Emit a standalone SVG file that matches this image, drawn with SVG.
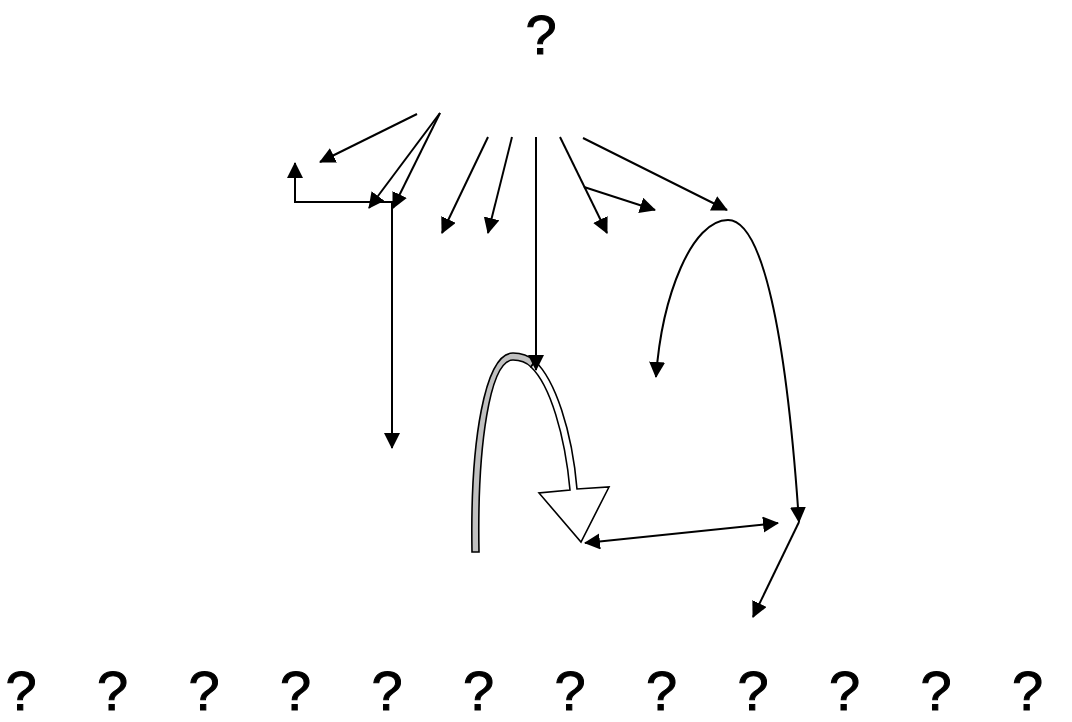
<svg xmlns="http://www.w3.org/2000/svg" width="1072" height="722" viewBox="0 0 1072 722">
<style>
.q{font-family:"Liberation Sans",Arial,sans-serif;font-size:56px;fill:#000;text-anchor:middle;stroke:#000;stroke-width:1}
.c{fill:none;stroke:#000;stroke-width:2;marker-end:url(#ah)}
.d{marker-start:url(#ah)}
</style>
<defs>
<marker id="ah" markerUnits="userSpaceOnUse" markerWidth="17" markerHeight="17" refX="15" refY="8" orient="auto-start-reverse" viewBox="0 0 17 17">
<path d="M0,0 L16,8 L0,16 z" fill="#000"/>
</marker>
</defs>
<rect width="1072" height="722" fill="#fff"/>
<g id="top"><text class="q" x="541" y="54">?</text></g>
<g id="bottom">
<text class="q" x="21" y="710">?</text>
<text class="q" x="112.5" y="710">?</text>
<text class="q" x="204" y="710">?</text>
<text class="q" x="295.5" y="710">?</text>
<text class="q" x="387" y="710">?</text>
<text class="q" x="478.5" y="710">?</text>
<text class="q" x="570" y="710">?</text>
<text class="q" x="661.5" y="710">?</text>
<text class="q" x="753" y="710">?</text>
<text class="q" x="844.5" y="710">?</text>
<text class="q" x="936" y="710">?</text>
<text class="q" x="1027.5" y="710">?</text>
</g>
<g id="blockarrow" stroke="#000" stroke-width="1.6" stroke-linejoin="miter">
<path d="M472,552 L479,552 C477,445 490,360 513,360 C520,360 526,362 531,367 L535,361 C528,355 520,353 513,353 C485,353 470,440 472,552 Z" fill="#c0c0c0"/>
<path d="M535,361 C555,380 572,430 577,489 L609,487 L581,542 L539,493 L570,490 C565,435 550,385 531,367 Z" fill="#fff"/>
</g>
<g id="connectors">
<path class="c" d="M417,114 L320,162"/>
<path class="c" d="M440,113 L369,208"/>
<path class="c" d="M440,113 L393,208"/>
<path class="c d" d="M295,163 V202 H392 V448"/>
<path class="c" d="M488,137 L442,233"/>
<path class="c" d="M512,137 L488,233"/>
<path class="c" d="M536,137 L536,370"/>
<path class="c" d="M560,137 L607,233"/>
<path class="c" d="M584,187 L655,210"/>
<path class="c" d="M583,138 L727,210"/>
<path class="c d" d="M656,377 C662,295 692,220 728,220 C762,220 786,330 799,522"/>
<path class="c" d="M799,522 L753,617"/>
<path class="c d" d="M585,543 L778,523"/>
</g>
</svg>
